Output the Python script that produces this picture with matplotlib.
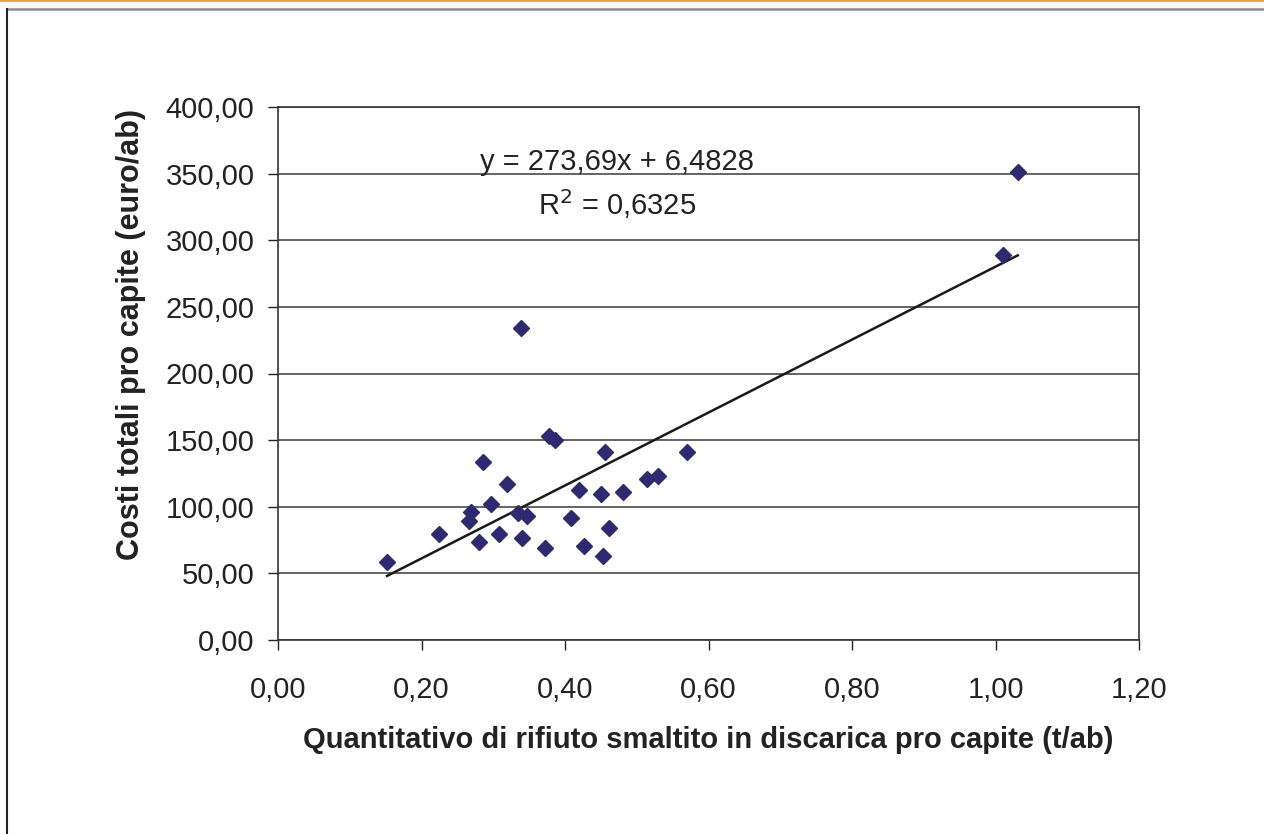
import numpy as np
import matplotlib.pyplot as plt
from matplotlib.lines import Line2D

plt.rcParams['font.family'] = ['Liberation Sans', 'DejaVu Sans']

# ----------------------------
# Data
# ----------------------------
rifiuto_t_ab = [0.152, 0.225, 0.280, 0.266, 0.269, 0.286, 0.297, 0.308, 0.319, 0.334,
                0.340, 0.347, 0.372, 0.378, 0.386, 0.408, 0.420, 0.426, 0.450, 0.453,
                0.456, 0.461, 0.481, 0.514, 0.529, 0.570, 0.339, 1.010, 1.031]
costi_euro_ab = [58.3, 79.5, 73.5, 89.5, 96.3, 133.6, 101.8, 79.5, 116.8, 95.6,
                 76.8, 92.8, 69.3, 153.3, 149.8, 91.6, 112.6, 70.8, 109.3, 63.0,
                 141.1, 84.0, 111.0, 121.1, 122.8, 141.1, 234.1, 288.9, 351.2]

slope = 273.69
intercept = 6.4828
r2 = 0.6325

x_ticks = [0.0, 0.2, 0.4, 0.6, 0.8, 1.0, 1.2]
y_ticks = [0, 50, 100, 150, 200, 250, 300, 350, 400]

def it_fmt(v):
    return f"{v:.2f}".replace(".", ",")

# ----------------------------
# Figure
# ----------------------------
fig = plt.figure(figsize=(12.64, 8.34), dpi=100)

# slide frame + orange top line
fig.add_artist(Line2D([0, 1], [0.9995, 0.9995], transform=fig.transFigure,
                      color="#f39a3c", linewidth=2.0))
fig.add_artist(Line2D([7 / 1264, 1.2], [1 - 9 / 834, 1 - 9 / 834], transform=fig.transFigure,
                      color="#8a8a8a", linewidth=1.8))
fig.add_artist(Line2D([7 / 1264, 7 / 1264], [-0.1, 1 - 9 / 834], transform=fig.transFigure,
                      color="#222222", linewidth=1.5))

ax = fig.add_axes([278 / 1264, 194 / 834, 861 / 1264, 533 / 834])

ax.plot(rifiuto_t_ab, costi_euro_ab, linestyle="none", marker="D",
        markersize=8.5, color="#2d2a70", markeredgecolor="#2d2a70", zorder=3)

xs = np.array([min(rifiuto_t_ab), max(rifiuto_t_ab)])
ax.plot(xs, slope * xs + intercept, color="#1a1a1a", linewidth=1.8, zorder=2)

ax.set_xlim(0, 1.2)
ax.set_ylim(0, 400)
ax.set_xticks(x_ticks)
ax.set_yticks(y_ticks)
ax.set_xticklabels([it_fmt(v) for v in x_ticks])
ax.set_yticklabels([it_fmt(v) for v in y_ticks])

ax.grid(axis="y", color="#3a3a3a", linewidth=1.1)
ax.set_axisbelow(True)
for s in ax.spines.values():
    s.set_color("#333333")
    s.set_linewidth(1.2)

ax.tick_params(axis="both", labelsize=21, colors="#222222", length=7, width=1.0,
               direction="out")
ax.tick_params(axis="x", pad=19)
ax.tick_params(axis="y", pad=10)

ax.set_xlabel("Quantitativo di rifiuto smaltito in discarica pro capite (t/ab)",
              fontsize=21, fontweight="bold", color="#222222", labelpad=16)
ax.set_ylabel("Costi totali pro capite (euro/ab)",
              fontsize=22, fontweight="bold", color="#222222")
ax.yaxis.set_label_coords(-0.153, 0.574)

ax.text(0.394, 0.881, "y = 273,69x + 6,4828", transform=ax.transAxes,
        ha="center", va="baseline", fontsize=21, color="#222222")
ax.text(0.394, 0.797, r"R$^{2}$ = 0,6325", transform=ax.transAxes,
        ha="center", va="baseline", fontsize=21, color="#222222")

fig.savefig("out.png", dpi=100)
